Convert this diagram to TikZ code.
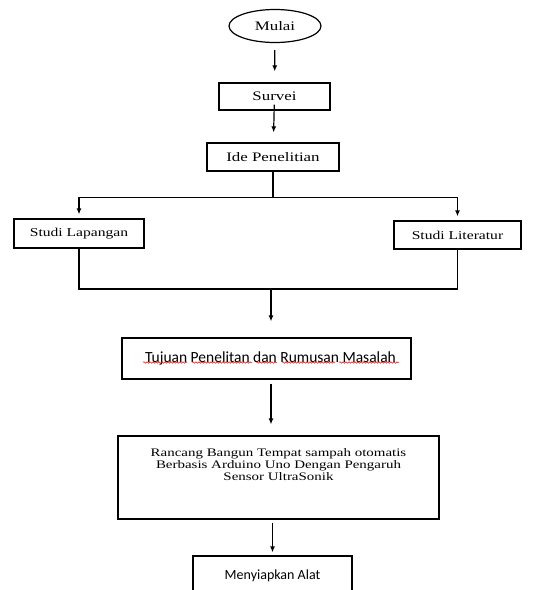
\documentclass[tikz,border=0pt]{standalone}
\usepackage{fontspec}
\setmainfont{Liberation Serif}[FakeStretch=1.3]
\newfontfamily\calibri{Carlito}
\usetikzlibrary{arrows.meta,shapes.geometric,decorations.pathmorphing}
\begin{document}
\begin{tikzpicture}[x=1pt,y=-1pt,
  box/.style={draw,line width=1.2pt,inner sep=0pt},
  arr/.style={line width=1.2pt,-{Latex[length=6pt,width=5pt]}},
  wavy/.style={red,line width=0.5pt,decorate,decoration={snake,segment length=3pt,amplitude=0.8pt}}]
\clip (0,0) rectangle (533,590);
\fill[white] (0,0) rectangle (533,590);
\node[box,ellipse,minimum width=92pt,minimum height=33pt,font=\fontsize{13}{15}\selectfont] (mulai) at (275,26) {Mulai};
\node[box,minimum width=111pt,minimum height=27pt,font=\fontsize{13}{15}\selectfont] (survei) at (274.5,96.5) {Survei};
\node[box,minimum width=132pt,minimum height=28pt,font=\fontsize{13}{15}\selectfont] (ide) at (273,157) {Ide Penelitian};
\node[box,minimum width=130pt,minimum height=29pt,font=\fontsize{12}{14}\selectfont] (lap) at (79,233.5) {Studi Lapangan};
\node[box,minimum width=127pt,minimum height=28pt,font=\fontsize{12}{14}\selectfont] (lit) at (457.5,235) {Studi Literatur};
\node[box,minimum width=289pt,minimum height=41pt,font=\calibri\fontsize{15.5}{18}\selectfont] (tuj) at (266.5,358.5) {\hspace{8pt}Tujuan Penelitan dan Rumusan Masalah};
\node[box,minimum width=321pt,minimum height=83pt] (ran) at (278.5,477.5) {};
\node[anchor=north,align=center,inner sep=0pt,font=\fontsize{11.5}{12}\selectfont] (rantext) at ([yshift=-13pt]ran.north) {Rancang Bangun Tempat sampah otomatis\\Berbasis Arduino Uno Dengan Pengaruh\\Sensor UltraSonik};
\node[box,minimum width=159pt,minimum height=40pt,font=\calibri\fontsize{14}{16}\selectfont] (alat) at (272.5,576) {Menyiapkan Alat};
\coordinate (join) at (271,289);
\draw[arr,shorten <=7pt,shorten >=11pt] (mulai) -- (survei);
\draw[arr,shorten <=-6pt,shorten >=10pt] (survei) -- (ide);
\draw[arr,shorten >=4pt] (ide.south) -- ++(0,26) -| (lap.north);
\draw[arr,shorten >=4pt] (ide.south) -- ++(0,26) -| (lit.north);
\draw[line width=1.2pt] (lap.south) |- (join) -| (lit.south);
\draw[arr,shorten >=16pt] (join) -- (join |- tuj.north);
\draw[arr,shorten <=4pt,shorten >=11pt] (tuj.south -| join) -- (ran.north -| join);
\draw[arr,shorten <=3pt,shorten >=3pt] (ran.south -| alat) -- (alat.north);
\foreach \a/\b in {143/187,192/252,256/277,282/335,339/399}
  \draw[wavy] (\a,362.5) -- (\b,362.5);
\end{tikzpicture}
\end{document}
